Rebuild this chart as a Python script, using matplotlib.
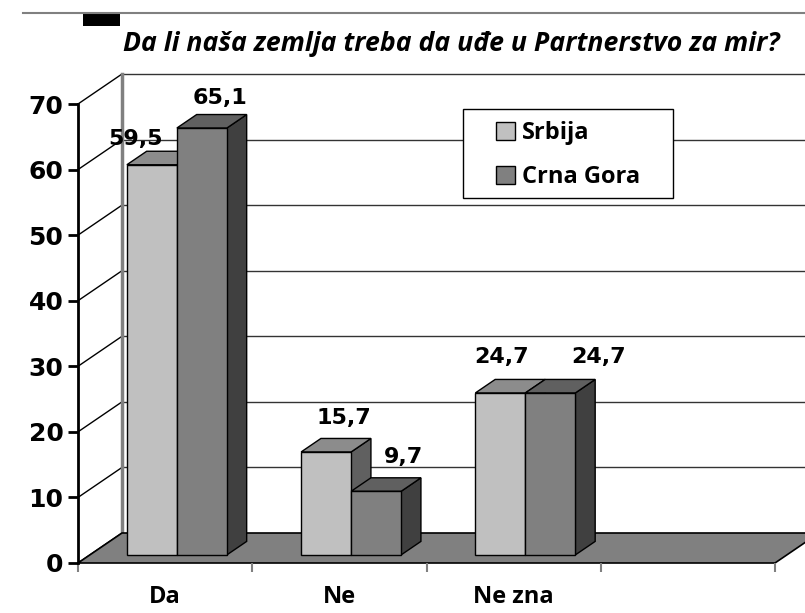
import matplotlib
matplotlib.use('Agg')
import matplotlib.pyplot as plt
from matplotlib.patches import Polygon, Rectangle
from matplotlib.lines import Line2D

# data
categories = ['Da', 'Ne', 'Ne zna']
series = ['Srbija', 'Crna Gora']
srbija = [59.5, 15.7, 24.7]
crna_gora = [65.1, 9.7, 24.7]
yticks = [0, 10, 20, 30, 40, 50, 60, 70]
title = 'Da li naša zemlja treba da uđe u Partnerstvo za mir?'

front_cols = ['#c0c0c0', '#808080']
top_cols = ['#8c8c8c', '#606060']
side_cols = ['#606060', '#404040']

W, H = 805, 613
fig = plt.figure(figsize=(W / 100, H / 100), dpi=100)
ax = fig.add_axes([78 / W, (H - 563) / H, (775 - 78) / W, (563 - 104) / H])
ax.set_xlim(0, 4)
ax.set_ylim(0, 70)

# depth offset of the 3d box (in data units)
DX = 44 / 174.25
DY = 30 / 6.557
d0, d1 = 0.27, 0.72
gap = 37 / 174.25
bw = 50 / 174.25

# floor
ax.add_patch(Polygon([(0, 0), (4, 0), (4 + DX, DY), (DX, DY)], closed=True,
                     facecolor='#808080', edgecolor='black', lw=1.2,
                     clip_on=False, zorder=1))
# back wall grid + side wall lines
for v in yticks[1:]:
    ax.add_line(Line2D([DX, 4 + DX], [v + DY, v + DY], color='#333333', lw=1,
                       clip_on=False, zorder=0.5))
for v in yticks:
    ax.add_line(Line2D([0, DX], [v, v + DY], color='black', lw=1,
                       clip_on=False, zorder=0.6))
ax.add_line(Line2D([DX, DX], [DY, 70 + DY], color='#808080', lw=2.5,
                   clip_on=False, zorder=0.7))

# bars
bdx, bdy = (d1 - d0) * DX, (d1 - d0) * DY
label_off = [[(-16, 26), (18, 30)], [(18, 34), (27, 34)], [(1, 36), (48, 36)]]
for i in range(len(categories)):
    for s, vals in enumerate([srbija, crna_gora]):
        v = vals[i]
        x = i + gap + d0 * DX + s * bw
        y0 = d0 * DY
        z = 3 + i * 2 + s
        ax.add_patch(Polygon([(x + bw, y0), (x + bw + bdx, y0 + bdy),
                              (x + bw + bdx, y0 + v + bdy), (x + bw, y0 + v)],
                             closed=True, facecolor=side_cols[s], edgecolor='black',
                             lw=1, clip_on=False, zorder=z))
        ax.add_patch(Polygon([(x, y0 + v), (x + bdx, y0 + v + bdy),
                              (x + bw + bdx, y0 + v + bdy), (x + bw, y0 + v)],
                             closed=True, facecolor=top_cols[s], edgecolor='black',
                             lw=1, clip_on=False, zorder=z))
        ax.bar(x, v, width=bw, bottom=y0, align='edge', color=front_cols[s],
               edgecolor='black', lw=1, clip_on=False, zorder=z)
        ax.annotate(f'{v:.1f}'.replace('.', ','), (x + bw / 2, y0 + v),
                    xytext=label_off[i][s], textcoords='offset pixels',
                    ha='center', va='center', fontsize=16, fontweight='bold',
                    family='DejaVu Sans', annotation_clip=False, zorder=20)

# axes styling
for sp in ['top', 'right', 'bottom']:
    ax.spines[sp].set_visible(False)
ax.spines['left'].set_linewidth(2)
ax.spines['left'].set_zorder(10)
ax.set_yticks(yticks)
ax.tick_params(axis='y', direction='out', length=7, width=2, pad=3.5,
               labelsize=18)
for t in ax.get_yticklabels():
    t.set_fontweight('bold')
    t.set_family('DejaVu Sans')
ax.set_xticks([0, 1, 2, 3, 4])
ax.set_xticklabels([])
ax.tick_params(axis='x', which='major', direction='out', length=6.5, width=1.5,
               color='#808080')
ax.set_xticks([0.5, 1.5, 2.5], minor=True)
ax.set_xticklabels(categories, minor=True, fontsize=17, fontweight='bold',
                   family='Open Sans')
ax.tick_params(axis='x', which='minor', length=0, pad=16)
ax.patch.set_visible(False)

# legend
fig.patches.append(Rectangle((463 / W, 1 - 198 / H), 210 / W, 89 / H,
                             transform=fig.transFigure, facecolor='white',
                             edgecolor='black', lw=1, zorder=30))
handles = [Rectangle((0, 0), 1, 1, facecolor=c, edgecolor='black', lw=1)
           for c in front_cols]
leg = fig.legend(handles, series, loc='upper left',
                 bbox_to_anchor=(496 / W, 1 - 121 / H), frameon=False,
                 prop={'family': 'Open Sans', 'weight': 'bold', 'size': 17},
                 handlelength=0.8, handleheight=0.8, handletextpad=0.3,
                 labelspacing=0.85, borderpad=0, borderaxespad=0)
leg.set_zorder(31)

# header
fig.add_artist(Line2D([23 / W, 1], [1 - 13 / H, 1 - 13 / H], color='#808080',
                      lw=1.5, transform=fig.transFigure))
fig.patches.append(Rectangle((83 / W, 1 - 26 / H), 37 / W, 13 / H,
                             transform=fig.transFigure, facecolor='black',
                             edgecolor='none'))
fig.text(123 / W, 1 - 51 / H, title, ha='left', va='baseline', fontsize=19.2,
         fontweight='bold', fontstyle='italic', family='Open Sans')

fig.savefig('out.png', dpi=100)
